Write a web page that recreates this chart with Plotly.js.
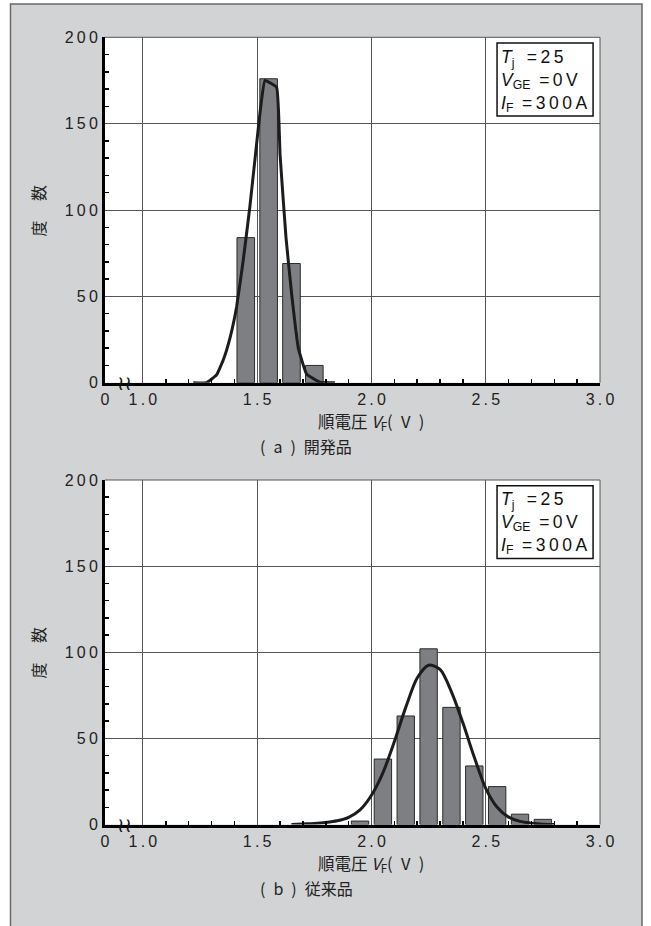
<!DOCTYPE html>
<html>
<head>
<meta charset="utf-8">
<script src="https://cdn.plot.ly/plotly-3.0.1.min.js"></script>
<style>
html,body{margin:0;padding:0;background:#fff;}
#chart{width:651px;height:926px;}
</style>
</head>
<body>
<div id="chart"></div>
<script>
// ---------- data ----------
// (a) 開発品
const vfA = [1.45, 1.55, 1.65, 1.75];
const countA = [84, 176, 69, 10];
const fitAx = [1.22, 1.279, 1.322, 1.351, 1.381, 1.410, 1.439, 1.468, 1.498, 1.512, 1.534, 1.585, 1.600, 1.626, 1.651, 1.680, 1.716, 1.775, 1.84];
const fitAy = [0, 0, 4.5, 13, 26, 44, 71, 102, 139, 156, 175, 171, 132, 84, 51, 20, 5, 0.3, 0];
// (b) 従来品
const vfB = [1.95, 2.05, 2.15, 2.25, 2.35, 2.45, 2.55, 2.65, 2.75];
const countB = [2, 38, 63, 102, 68, 34, 22, 6, 3];
const fitBx = [1.65, 1.70, 1.75, 1.80, 1.85, 1.90, 1.95, 2.00, 2.05, 2.10, 2.15, 2.20, 2.25, 2.30, 2.35, 2.40, 2.45, 2.50, 2.55, 2.60, 2.65, 2.70, 2.75, 2.80];
const fitBy = [0, 0.3, 0.6, 1.2, 2.2, 4.2, 8.5, 17, 30, 48, 68, 85, 92.5, 90, 77, 59, 39, 21, 10, 4.3, 1.8, 0.8, 0.2, 0];
// axes
const xOrigin = 0.834;          // broken axis: "0" drawn at the left edge
const xTickVals = [xOrigin, 1.0, 1.5, 2.0, 2.5, 3.0];
const xTickText = ['0', '1.0', '1.5', '2.0', '2.5', '3.0'];
const yTickVals = [0, 50, 100, 150, 200];
const yTickText = ['0', '50', '100', '150', '200'];
const TS = '\u2009';  // thin space used as letter spacing
const EN = '\u2002';
const condText =
  '<i>T</i><sub>j</sub>' + EN + TS + '=' + TS + '2' + TS + '5<br>' +
  '<i>V</i><sub>GE</sub>' + EN + '=' + TS + '0' + TS + 'V<br>' +
  '<i>I</i><sub>F</sub>' + EN + '=' + TS + '3' + TS + '0' + TS + '0' + TS + 'A';
const xTitle = '順電圧 <i>V</i><sub>F</sub>(' + EN + 'V' + EN + ')';
const yTitle = '度　 数';
const capA = '(' + EN + 'a' + EN + ')' + EN + '開発品';
const capB = '(' + EN + 'b' + EN + ')' + EN + '従来品';

// ---------- style ----------
const W = 651, H = 926;
const BG = '#d2d3d5';
const GRID = '#555555';
const BARFILL = '#7e7f83';
const FONT = 'Liberation Sans, Arial, sans-serif';
const CJK = 'Noto Sans CJK JP, Liberation Sans, sans-serif';

const spaced = s => s.split('').join(TS);

const xMinor = [];
for (let i = 11; i < 30; i++) { if (i % 5 !== 0) xMinor.push(i / 10); }
const yMinor = [];
for (let i = 10; i < 200; i += 10) { if (i % 50 !== 0) yMinor.push(i); }

const xDom = [105 / W, 600 / W];
const yDomA = [1 - 382.7 / H, 1 - 37.3 / H];
const yDomB = [1 - 824.5 / H, 1 - 480 / H];

function xAxis(anchor) {
  return {
    domain: xDom, anchor: anchor, range: [xOrigin, 3.0],
    tickmode: 'array', tickvals: xTickVals, ticktext: xTickText.map(spaced),
    ticks: '', showline: true, linecolor: '#000', linewidth: 3,
    showgrid: true, gridcolor: GRID, gridwidth: 1, zeroline: false,
    tickfont: {family: FONT, size: 16, color: '#222'},
    minor: {tickmode: 'array', tickvals: xMinor, ticks: 'inside', ticklen: 4, tickwidth: 1.5, tickcolor: '#000', showgrid: false},
    fixedrange: true
  };
}
function yAxis(anchor, dom) {
  return {
    domain: dom, anchor: anchor, range: [0, 200],
    tickmode: 'array', tickvals: yTickVals, ticktext: yTickText.map(spaced),
    ticks: '', showline: true, linecolor: '#000', linewidth: 3,
    showgrid: true, gridcolor: GRID, gridwidth: 1, zeroline: false,
    tickfont: {family: FONT, size: 16, color: '#222'},
    ticklabelstandoff: 1,
    minor: {tickmode: 'array', tickvals: yMinor, ticks: 'inside', ticklen: 4, tickwidth: 1.5, tickcolor: '#000', showgrid: false},
    fixedrange: true
  };
}

const barStyle = {color: BARFILL, line: {color: '#2a2a2a', width: 1}};
const lineStyle = {color: '#1c1c1c', width: 3};

const traces = [
  {type: 'bar', x: vfA, y: countA, width: 0.077, marker: barStyle, xaxis: 'x', yaxis: 'y', hoverinfo: 'x+y'},
  {type: 'scatter', mode: 'lines', x: fitAx, y: fitAy, line: Object.assign({shape: 'spline', smoothing: 0.3}, lineStyle), xaxis: 'x', yaxis: 'y', hoverinfo: 'skip'},
  {type: 'bar', x: vfB, y: countB, width: 0.076, marker: barStyle, xaxis: 'x2', yaxis: 'y2', hoverinfo: 'x+y'},
  {type: 'scatter', mode: 'lines', x: fitBx, y: fitBy, line: Object.assign({shape: 'spline', smoothing: 0.8}, lineStyle), xaxis: 'x2', yaxis: 'y2', hoverinfo: 'skip'}
];

function boxShape(xr, yr) {
  return {type: 'rect', xref: xr + ' domain', yref: yr + ' domain', x0: 0.792, x1: 0.986, y0: 0.772, y1: 0.9835,
          line: {color: '#111', width: 1.5}, fillcolor: '#fff', layer: 'above'};
}
function edgeShapes(xr, yr) {
  return [
    {type: 'line', xref: xr + ' domain', yref: yr + ' domain', x0: 0, x1: 1, y0: 1, y1: 1, line: {color: GRID, width: 1}, layer: 'below'},
    {type: 'line', xref: xr + ' domain', yref: yr + ' domain', x0: 1, x1: 1, y0: 0, y1: 1, line: {color: GRID, width: 1}, layer: 'below'}
  ];
}

const shapes = [
  {type: 'rect', xref: 'paper', yref: 'paper', x0: 0, x1: 10.5 / W, y0: 0, y1: 1, fillcolor: '#fff', line: {width: 0}, layer: 'above'},
  {type: 'rect', xref: 'paper', yref: 'paper', x0: 642 / W, x1: 1, y0: 0, y1: 1, fillcolor: '#fff', line: {width: 0}, layer: 'above'},
  {type: 'rect', xref: 'paper', yref: 'paper', x0: 0, x1: 1, y0: 1 - 4 / H, y1: 1, fillcolor: '#fff', line: {width: 0}, layer: 'above'},
  {type: 'path', xref: 'paper', yref: 'paper',
   path: 'M ' + (10.5 / W) + ' -0.01 L ' + (10.5 / W) + ' ' + (1 - 4 / H) + ' L ' + (642 / W) + ' ' + (1 - 4 / H) + ' L ' + (642 / W) + ' -0.01',
   line: {color: '#6a6a6a', width: 1.5}, layer: 'above'},
  boxShape('x', 'y'), boxShape('x2', 'y2')
].concat(edgeShapes('x', 'y'), edgeShapes('x2', 'y2'));

function condAnn(xr, yr) {
  return {xref: xr + ' domain', yref: yr + ' domain', x: 0.796, y: 0.8745, xanchor: 'left', yanchor: 'middle',
          text: condText, showarrow: false, align: 'left', font: {family: FONT, size: 17.5, color: '#111'}};
}
function txt(x, y, t, extra) {
  return Object.assign({xref: 'paper', yref: 'paper', x: x / W, y: 1 - y / H, text: t, showarrow: false,
          xanchor: 'center', yanchor: 'middle', font: {family: CJK, size: 16, color: '#222'}}, extra || {});
}
function breakMark(xr, yr) {
  return {xref: xr, yref: yr, x: 0.92, y: 0, text: '≀≀', showarrow: false, xanchor: 'center', yanchor: 'middle',
          font: {family: 'DejaVu Sans', size: 20, color: '#111'}};
}

const annotations = [
  condAnn('x', 'y'), condAnn('x2', 'y2'),
  txt(371, 421.7, xTitle, {font: {family: CJK, size: 16.5, color: '#222'}}),
  txt(306, 446, capA),
  txt(371, 863.5, xTitle, {font: {family: CJK, size: 16.5, color: '#222'}}),
  txt(306, 888, capB),
  txt(37, 210.5, yTitle, {textangle: -90}),
  txt(37, 652.5, yTitle, {textangle: -90}),
  breakMark('x', 'y'), breakMark('x2', 'y2')
];

const layout = {
  width: W, height: H, autosize: false,
  margin: {l: 0, r: 0, t: 0, b: 0, pad: 0},
  paper_bgcolor: BG, plot_bgcolor: '#fff',
  showlegend: false, bargap: 0,
  xaxis: xAxis('y'), yaxis: yAxis('x', yDomA),
  xaxis2: xAxis('y2'), yaxis2: yAxis('x2', yDomB),
  shapes: shapes, annotations: annotations,
  font: {family: FONT}
};

Plotly.newPlot('chart', traces, layout, {displayModeBar: false, staticPlot: true});
</script>
</body>
</html>
